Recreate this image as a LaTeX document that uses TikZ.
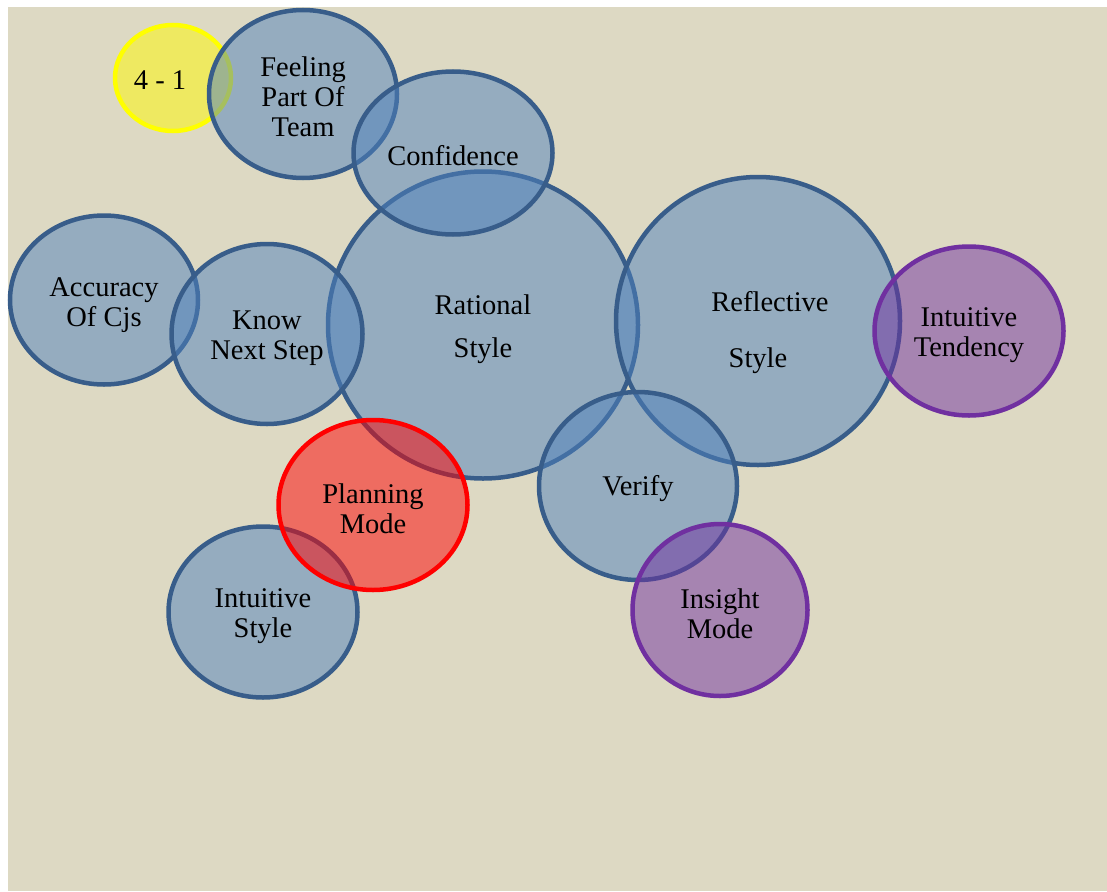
\documentclass[tikz,border=0pt]{standalone}
\usepackage{fontspec}
\setmainfont{Liberation Serif}
\usetikzlibrary{shapes.geometric}

\definecolor{pagebg}{RGB}{221,217,195}
\definecolor{blueline}{RGB}{56,93,138}
\definecolor{bluefill}{RGB}{79,129,189}
\definecolor{purpline}{RGB}{112,48,160}
\definecolor{purpfill}{RGB}{112,48,160}
\definecolor{redline}{RGB}{255,0,0}
\definecolor{redfill}{RGB}{255,0,0}
\definecolor{yelline}{RGB}{255,255,0}
\definecolor{yelfill}{RGB}{255,250,0}

\tikzset{
  bubble/.style={ellipse, line width=4.5pt, fill opacity=0.5, inner sep=0pt},
  bluebub/.style={bubble, draw=blueline, fill=bluefill},
  purpbub/.style={bubble, draw=purpline, fill=purpfill},
  redbub/.style={bubble, draw=redline, fill=redfill},
  yelbub/.style={bubble, draw=yelline, fill=yelfill},
  lbl/.style={font=\fontsize{28.5}{30}\selectfont, align=center, inner sep=0pt, text=black}
}

\begin{document}
\begin{tikzpicture}[x=1pt, y=-1pt]
  \useasboundingbox (0,0) rectangle (1107,891);
  \fill[white] (0,0) rectangle (1107,891);
  \fill[pagebg] (8,7) rectangle (1107,891);

  % bubbles, back to front
  \node[bluebub, minimum width=188pt, minimum height=169pt] (acc) at (104,300) {};
  \node[bluebub, minimum width=310pt, minimum height=307pt] (rat) at (483,325) {};
  \node[bluebub, minimum width=191pt, minimum height=180pt] (know) at (267,334) {};
  \node[bluebub, minimum width=284pt, minimum height=288pt] (refl) at (758,321) {};
  \node[purpbub, minimum width=189pt, minimum height=169pt] (tend) at (969,331) {};
  \node[bluebub, minimum width=198pt, minimum height=188pt] (ver) at (638,486) {};
  \node[purpbub, minimum width=175pt, minimum height=172pt] (ins) at (720,610) {};
  \node[bluebub, minimum width=189pt, minimum height=171pt] (intu) at (263,612) {};
  \node[redbub, minimum width=189pt, minimum height=170pt] (plan) at (373,505) {};
  \node[yelbub, minimum width=116pt, minimum height=106pt] (four) at (173,78) {};
  \node[bluebub, minimum width=188pt, minimum height=168pt] (feel) at (303,94) {};
  \node[bluebub, minimum width=199pt, minimum height=163pt] (conf) at (453,153) {};

  % labels
  \node[lbl] (acc-t) at (104,305) {Accuracy\\Of Cjs};
  \node[lbl] (rat-t) at (483,329) {Rational\\[13pt]Style};
  \node[lbl] (know-t) at (267,338) {Know\\Next Step};
  \node[lbl] (refl-t1) at (770,302) {Reflective};
  \node[lbl] (refl-t2) at (758,361) {Style};
  \node[lbl] (tend-t) at (969,335) {Intuitive\\Tendency};
  \node[lbl] (ver-t) at (638,489) {Verify};
  \node[lbl] (ins-t) at (720,614) {Insight\\Mode};
  \node[lbl] (intu-t) at (263,616) {Intuitive\\Style};
  \node[lbl] (plan-t) at (373,509) {Planning\\Mode};
  \node[lbl] (four-t) at (160,80) {4 - 1};
  \node[lbl] (feel-t) at (303,97) {Feeling\\Part Of\\Team};
  \node[lbl] (conf-t) at (453,156) {Confidence};
\end{tikzpicture}
\end{document}
